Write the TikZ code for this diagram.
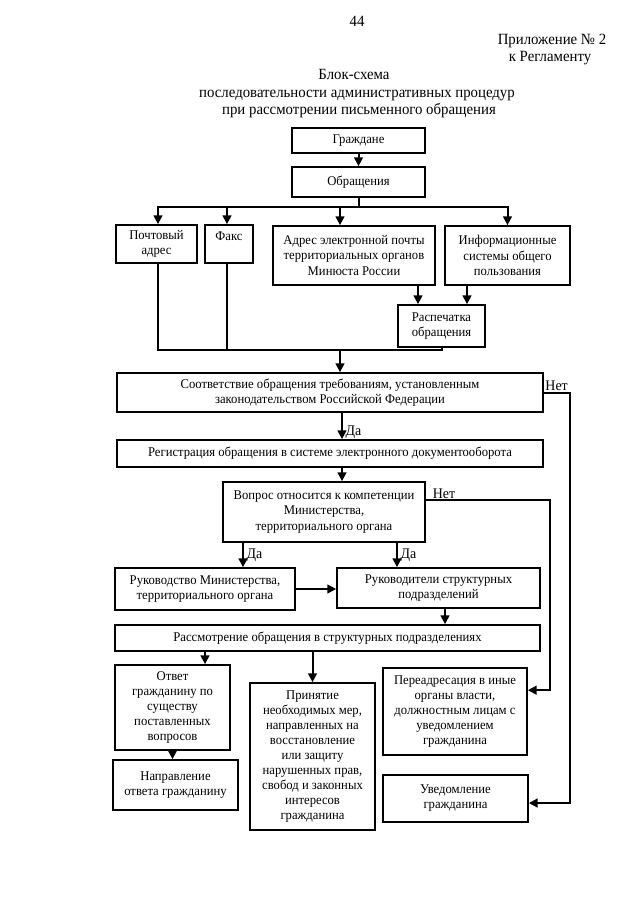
\documentclass[tikz,border=0pt]{standalone}
\usepackage{fontspec}
\setmainfont[FakeStretch=0.95]{Liberation Serif}
\usetikzlibrary{arrows.meta}
\newcommand\bx[6]{%
  \pgfmathsetmacro\bxw{(#4-#2)*0.75}%
  \pgfmathsetmacro\bxh{(#5-#3)*0.75}%
  \node[box, minimum width=\bxw pt, minimum height=\bxh pt] (#1) at ({(#2+#4)/2},{(#3+#5)/2}) {#6};}
\begin{document}
\begin{tikzpicture}[x=0.75pt,y=-0.75pt,
  box/.style={draw, line width=1.3pt, align=center, inner sep=1pt, font=\fontsize{10}{11.3}\selectfont},
  conn/.style={line width=1.5pt},
  arr/.style={line width=1.5pt, -{Triangle[length=6.5pt,width=6.5pt]}},
  lbl/.style={font=\fontsize{11}{12}\selectfont, inner sep=1pt},
  hdr/.style={font=\fontsize{11.7}{13}\selectfont, inner sep=0pt, anchor=base}]
\useasboundingbox (0,0) rectangle (640,905);

% header
\node[hdr] (pg) at (357,27) {44};
\node[hdr] (pril1) at (552,45) {Приложение № 2};
\node[hdr] (pril2) at (550,62) {к Регламенту};
\node[hdr] (t1) at (354,80) {Блок-схема};
\node[hdr] (t2) at (357,98) {последовательности административных процедур};
\node[hdr] (t3) at (359,115) {при рассмотрении письменного обращения};

% boxes
\bx{gr}{292}{128}{425}{153}{Граждане}
\bx{obr}{292}{167}{425}{197}{Обращения}
\bx{post}{116}{225}{197}{263}{Почтовый\\адрес}
\bx{fax}{205}{225}{253}{263}{Факс\\\mbox{}}
\bx{adr}{273}{226}{435}{285}{Адрес электронной почты\\территориальных органов\\Минюста России}
\bx{info}{445}{226}{570}{285}{Информационные\\системы общего\\пользования}
\bx{print}{398}{305}{485}{347}{Распечатка\\обращения}
\bx{sootv}{117}{373}{543}{412}{Соответствие обращения требованиям, установленным\\законодательством Российской Федерации}
\bx{reg}{117}{440}{543}{467}{Регистрация обращения в системе электронного документооборота}
\bx{vopr}{223}{482}{425}{542}{Вопрос относится к компетенции\\Министерства,\\территориального органа}
\bx{ruk1}{115}{568}{295}{610}{Руководство Министерства,\\территориального органа}
\bx{ruk2}{337}{568}{540}{608}{Руководители структурных\\подразделений}
\bx{rass}{115}{625}{540}{651}{Рассмотрение обращения в структурных подразделениях}
\bx{otv}{115}{665}{230}{750}{Ответ\\гражданину по\\существу\\поставленных\\вопросов}
\bx{prin}{250}{683}{375}{830}{Принятие\\необходимых мер,\\направленных на\\восстановление\\или защиту\\нарушенных прав,\\свобод и законных\\интересов\\гражданина}
\bx{pere}{383}{668}{527}{755}{Переадресация в иные\\органы власти,\\должностным лицам с\\уведомлением\\гражданина}
\bx{napr}{113}{760}{238}{810}{Направление\\ответа гражданину}
\bx{uved}{383}{775}{528}{822}{Уведомление\\гражданина}

% coordinates
\coordinate (b0) at (358.5,207);
\coordinate (xa) at (340,0);
\coordinate (xp1) at (418,0);
\coordinate (xp2) at (467,0);
\coordinate (m) at (340,350);
\coordinate (c1) at (342,0);
\coordinate (n1) at (570,0);
\coordinate (n2) at (550,500);
\coordinate (d1) at (243,0);
\coordinate (d2) at (397,0);
\coordinate (xr) at (445,0);
\coordinate (xo) at (205,0);
\coordinate (xf) at (227,0);
\coordinate (xq) at (158,0);

% connectors
\draw[arr] (gr.south) -- (obr.north);
\draw[conn] (obr.south) -- (b0);
\draw[arr] (b0) -| (xq |- post.north);
\draw[arr] (b0) -| (info.north);
\draw[arr] (b0 -| xf) -- (xf |- fax.north);
\draw[arr] (b0 -| xa) -- (xa |- adr.north);
\draw[arr] (xp1 |- adr.south) -- (xp1 |- print.north);
\draw[arr] (xp2 |- info.south) -- (xp2 |- print.north);
\draw[conn] (xq |- post.south) |- (m);
\draw[conn] (print.south) |- (m);
\draw[conn] (xf |- fax.south) -- (xf |- m);
\draw[arr] (m) -- (m |- sootv.north);

\draw[arr] (c1 |- sootv.south) -- (c1 |- reg.north)
  node[lbl, pos=0.72, anchor=west, xshift=1pt] (da1) {Да};
\draw[arr] (sootv.east) -- (sootv.east -| n1) |- ([yshift=-3.4pt]uved.east);
\node[lbl, anchor=south west] (net1) at (sootv.east) {Нет};

\draw[arr] (c1 |- reg.south) -- (c1 |- vopr.north);

\draw[arr] (vopr.east |- n2) -- (n2) |- ([yshift=16pt]pere.east);
\node[lbl, anchor=south west, xshift=4pt] (net2) at (vopr.east |- n2) {Нет};

\draw[arr] (d1 |- vopr.south) -- (d1 |- ruk1.north)
  node[lbl, midway, anchor=west, xshift=1pt] (da2) {Да};
\draw[arr] (d2 |- vopr.south) -- (d2 |- ruk2.north)
  node[lbl, midway, anchor=west, xshift=1pt] (da3) {Да};

\draw[arr] (ruk1.east) -- (ruk1.east -| ruk2.west);
\draw[arr] (xr |- ruk2.south) -- (xr |- rass.north);
\draw[arr] (xo |- rass.south) -- (xo |- otv.north);
\draw[arr] (prin.north |- rass.south) -- (prin.north);
\draw[arr] (otv.south) -- (otv.south |- napr.north);
\end{tikzpicture}
\end{document}
